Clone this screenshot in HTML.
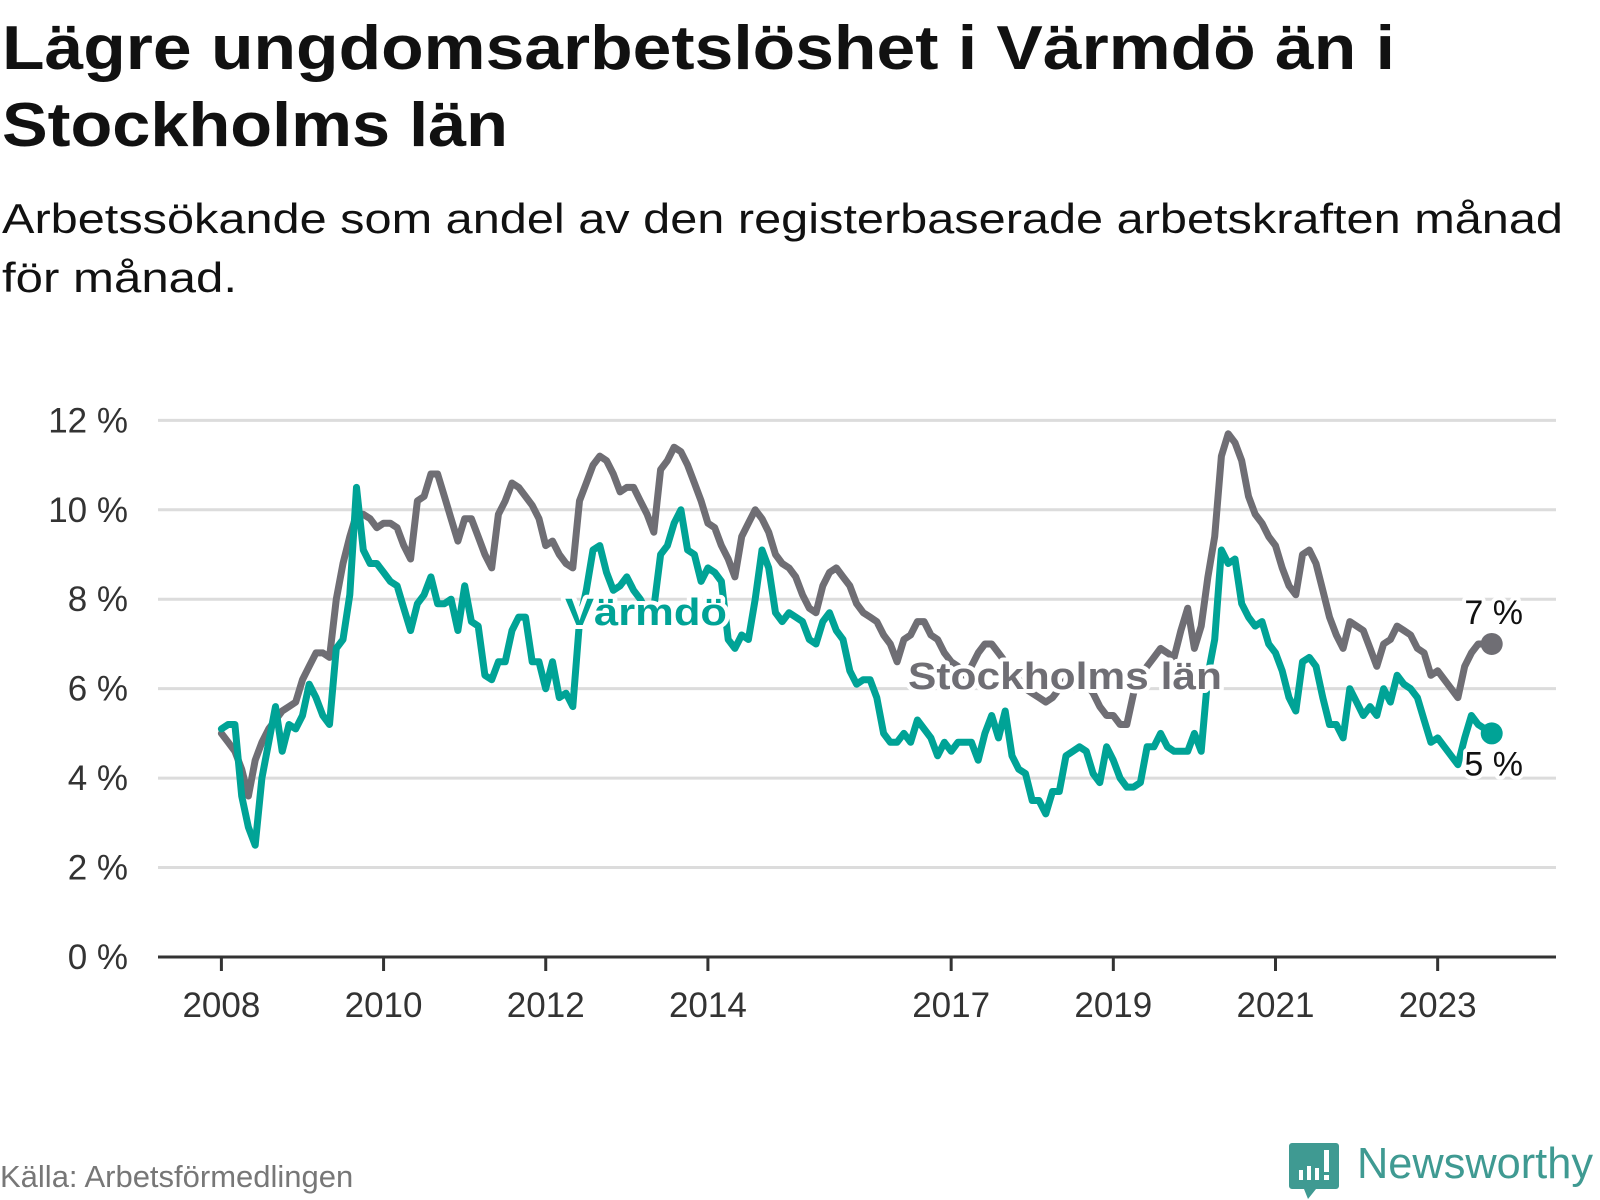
<!DOCTYPE html>
<html><head><meta charset="utf-8"><style>
html,body{margin:0;padding:0;background:#fff;}
svg{display:block;font-family:"Liberation Sans","DejaVu Sans",sans-serif;}
.halo{paint-order:stroke;stroke:#fff;stroke-width:8px;stroke-linejoin:round;}
</style></head><body>
<svg id="chart" width="1600" height="1200" viewBox="0 0 1600 1200">
<text x="2" y="69" font-size="62" font-weight="bold" fill="#111" textLength="1393" lengthAdjust="spacingAndGlyphs">Lägre ungdomsarbetslöshet i Värmdö än i</text>
<text x="2" y="146" font-size="62" font-weight="bold" fill="#111" textLength="506" lengthAdjust="spacingAndGlyphs">Stockholms län</text>
<text x="2" y="233" font-size="42" fill="#111" textLength="1561" lengthAdjust="spacingAndGlyphs">Arbetssökande som andel av den registerbaserade arbetskraften månad</text>
<text x="2" y="292" font-size="42" fill="#111" textLength="235" lengthAdjust="spacingAndGlyphs">för månad.</text>
<g id="grid"></g>
<g id="yticks"></g>
<g id="xticks"></g>
<g id="series"></g>
<text x="0" y="1187" font-size="31" fill="#777">Källa: Arbetsförmedlingen</text>
<g>
<path d="M1292 1143 h44 a3 3 0 0 1 3 3 v40 a3 3 0 0 1 -3 3 h-20 l-8 10 l-4 -10 h-12 a3 3 0 0 1 -3 -3 v-40 a3 3 0 0 1 3 -3z" fill="#3f9a92"/>
<rect x="1299" y="1170" width="4" height="10" fill="#fff"/><rect x="1307" y="1166" width="4" height="14" fill="#fff"/><rect x="1315" y="1168" width="4" height="12" fill="#fff"/><rect x="1324" y="1150" width="5" height="22" fill="#fff"/><rect x="1324" y="1175" width="5" height="5" fill="#fff"/>
<text x="1357" y="1178" font-size="44" fill="#3f9a92" textLength="236" lengthAdjust="spacingAndGlyphs">Newsworthy</text>
</g>
</svg>
<script>
const yTicks = [0, 2, 4, 6, 8, 10, 12];
const yTickLabels = ["0 %", "2 %", "4 %", "6 %", "8 %", "10 %", "12 %"];
const xTickYears = [2008, 2010, 2012, 2014, 2017, 2019, 2021, 2023];
const startYear = 2008;
const stockholm = [5.0,4.8,4.6,4.2,3.6,4.4,4.8,5.1,5.3,5.5,5.6,5.7,6.2,6.5,6.8,6.8,6.7,8.0,8.8,9.4,9.9,9.9,9.8,9.6,9.7,9.7,9.6,9.2,8.9,10.2,10.3,10.8,10.8,10.3,9.8,9.3,9.8,9.8,9.4,9.0,8.7,9.9,10.2,10.6,10.5,10.3,10.1,9.8,9.2,9.3,9.0,8.8,8.7,10.2,10.6,11.0,11.2,11.1,10.8,10.4,10.5,10.5,10.2,9.9,9.5,10.9,11.1,11.4,11.3,11.0,10.6,10.2,9.7,9.6,9.2,8.9,8.5,9.4,9.7,10.0,9.8,9.5,9.0,8.8,8.7,8.5,8.1,7.8,7.7,8.3,8.6,8.7,8.5,8.3,7.9,7.7,7.6,7.5,7.2,7.0,6.6,7.1,7.2,7.5,7.5,7.2,7.1,6.8,6.6,6.5,6.3,6.5,6.8,7.0,7.0,6.8,6.6,6.4,6.2,6.0,5.9,5.8,5.7,5.8,6.0,6.2,6.3,6.3,6.1,5.9,5.6,5.4,5.4,5.2,5.2,5.9,6.3,6.5,6.7,6.9,6.8,6.7,7.3,7.8,6.9,7.4,8.5,9.4,11.2,11.7,11.5,11.1,10.3,9.9,9.7,9.4,9.2,8.7,8.3,8.1,9.0,9.1,8.8,8.2,7.6,7.2,6.9,7.5,7.4,7.3,6.9,6.5,7.0,7.1,7.4,7.3,7.2,6.9,6.8,6.3,6.4,6.2,6.0,5.8,6.5,6.8,7.0,7.0,7.0];
const varmdo = [5.1,5.2,5.2,3.6,2.9,2.5,4.0,4.8,5.6,4.6,5.2,5.1,5.4,6.1,5.8,5.4,5.2,6.9,7.1,8.1,10.5,9.1,8.8,8.8,8.6,8.4,8.3,7.8,7.3,7.9,8.1,8.5,7.9,7.9,8.0,7.3,8.3,7.5,7.4,6.3,6.2,6.6,6.6,7.3,7.6,7.6,6.6,6.6,6.0,6.6,5.8,5.9,5.6,7.5,8.2,9.1,9.2,8.6,8.2,8.3,8.5,8.2,8.0,7.7,7.8,9.0,9.2,9.7,10.0,9.1,9.0,8.4,8.7,8.6,8.4,7.1,6.9,7.2,7.1,8.0,9.1,8.7,7.7,7.5,7.7,7.6,7.5,7.1,7.0,7.5,7.7,7.3,7.1,6.4,6.1,6.2,6.2,5.8,5.0,4.8,4.8,5.0,4.8,5.3,5.1,4.9,4.5,4.8,4.6,4.8,4.8,4.8,4.4,5.0,5.4,4.9,5.5,4.5,4.2,4.1,3.5,3.5,3.2,3.7,3.7,4.5,4.6,4.7,4.6,4.1,3.9,4.7,4.4,4.0,3.8,3.8,3.9,4.7,4.7,5.0,4.7,4.6,4.6,4.6,5.0,4.6,6.3,7.1,9.1,8.8,8.9,7.9,7.6,7.4,7.5,7.0,6.8,6.4,5.8,5.5,6.6,6.7,6.5,5.8,5.2,5.2,4.9,6.0,5.7,5.4,5.6,5.4,6.0,5.7,6.3,6.1,6.0,5.8,5.3,4.8,4.9,4.7,4.5,4.3,4.9,5.4,5.2,5.1,5.0];

const NS = "http://www.w3.org/2000/svg";
const X0 = 221.4, PER_MONTH = 6.757, Y0 = 957, PER_UNIT = 44.72;
const PLOT_LEFT = 158, PLOT_RIGHT = 1556;
function xScale(m){ return X0 + m * PER_MONTH; }
function yScale(v){ return Y0 - v * PER_UNIT; }
function mk(tag, attrs, parent){ const e = document.createElementNS(NS, tag); for (const k in attrs) e.setAttribute(k, attrs[k]); parent.appendChild(e); return e; }

const grid = document.getElementById('grid');
const yt = document.getElementById('yticks');
yTicks.forEach((v, i) => {
  const y = yScale(v);
  if (v > 0) {
    const gl = mk('line', {x1: PLOT_LEFT, x2: PLOT_RIGHT, y1: y, y2: y, stroke: '#dcdcdc', 'stroke-width': 3}, grid);
    
    
  }
  const t = mk('text', {x: 128, y: y + 12, 'text-anchor': 'end', 'font-size': 35, fill: '#333'}, yt);
  t.textContent = yTickLabels[i];
  
  
});
const xt = document.getElementById('xticks');
const axis = mk('line', {x1: PLOT_LEFT, x2: PLOT_RIGHT, y1: Y0, y2: Y0, stroke: '#333', 'stroke-width': 3}, xt);


xTickYears.forEach(yr => {
  const x = xScale((yr - startYear) * 12);
  const tk = mk('line', {x1: x, x2: x, y1: Y0, y2: Y0 + 14, stroke: '#333', 'stroke-width': 3}, xt);
  
  
  const t = mk('text', {x: x, y: Y0 + 60, 'text-anchor': 'middle', 'font-size': 35, fill: '#333'}, xt);
  t.textContent = String(yr);
  
  
});

const ser = document.getElementById('series');
function drawLine(data, color, name){
  const d = data.map((v, i) => (i ? 'L' : 'M') + xScale(i).toFixed(1) + ' ' + yScale(v).toFixed(1)).join(' ');
  const p = mk('path', {d: d, fill: 'none', stroke: color, 'stroke-width': 7, 'stroke-linejoin': 'round', 'stroke-linecap': 'round'}, ser);
  
  
  const n = data.length - 1;
  const c = mk('circle', {cx: xScale(n), cy: yScale(data[n]), r: 11, fill: color}, ser);
  
  
}
drawLine(stockholm, '#6f6e74', 'stockholm');
drawLine(varmdo, '#00a396', 'varmdo');

function label(txt, x, y, color, size, weight, len, name){
  const t = mk('text', {x: x, y: y, 'text-anchor': 'middle', 'font-size': size, 'font-weight': weight, fill: color, class: 'halo'}, ser);
  if (len) { t.setAttribute('textLength', len); t.setAttribute('lengthAdjust', 'spacingAndGlyphs'); }
  t.textContent = txt;
  
  
}
label('Värmdö', 646, 625, '#00a396', 38, 'bold', 162, 'varmdo-series-label');
label('Stockholms län', 1065, 689, '#6f6e74', 38, 'bold', 314, 'stockholm-series-label');
const nS = stockholm.length - 1, nV = varmdo.length - 1;
label(Math.round(stockholm[nS]) + ' %', xScale(nS) + 2, yScale(stockholm[nS]) - 20, '#111', 34, 'normal', 0, 'stockholm-end-value');
label(Math.round(varmdo[nV]) + ' %', xScale(nV) + 2, yScale(varmdo[nV]) + 42, '#111', 34, 'normal', 0, 'varmdo-end-value');
</script>
</body></html>
